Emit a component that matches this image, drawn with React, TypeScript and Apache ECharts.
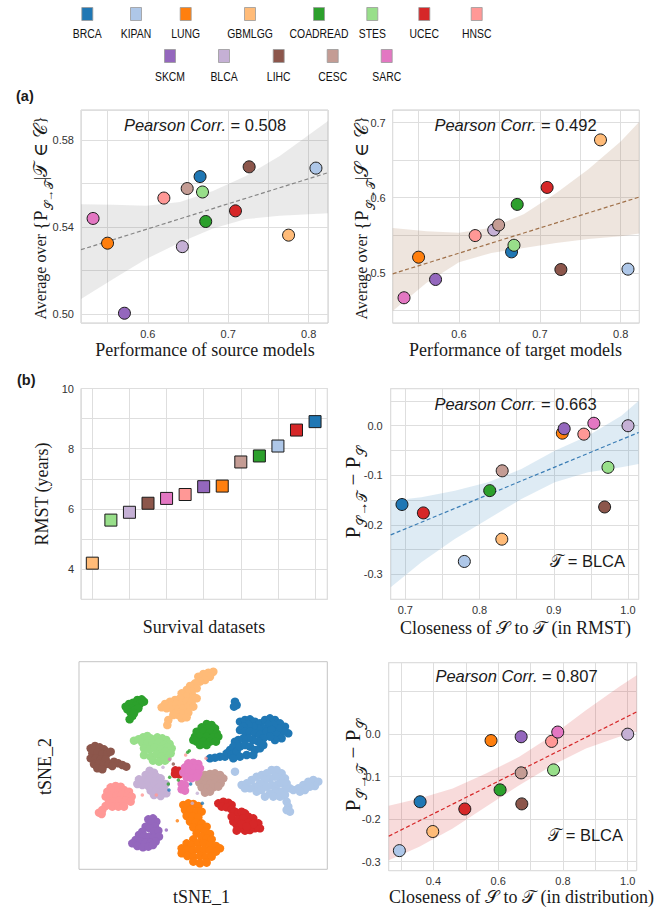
import React, { useEffect, useRef } from 'react';
import * as echarts from 'echarts';

// ---------- data ----------
const datasets = ['BRCA', 'KIPAN', 'LUNG', 'GBMLGG', 'COADREAD', 'STES', 'UCEC', 'HNSC', 'SKCM', 'BLCA', 'LIHC', 'CESC', 'SARC'];
const colors = ['#1f77b4', '#aec7e8', '#ff7f0e', '#ffbb78', '#2ca02c', '#98df8a', '#d62728', '#ff9896', '#9467bd', '#c5b0d5', '#8c564b', '#c49c94', '#e377c2'];

// panel (a)
const modelPerf = [0.665, 0.809, 0.550, 0.775, 0.672, 0.668, 0.709, 0.620, 0.571, 0.643, 0.726, 0.649, 0.532];
const avgAsSource = [0.5633, 0.5672, 0.5326, 0.5363, 0.5426, 0.5562, 0.5475, 0.5534, 0.5003, 0.5310, 0.5678, 0.5578, 0.5440];
const avgAsTarget = [0.5279, 0.5049, 0.5208, 0.6770, 0.5911, 0.5367, 0.6137, 0.5496, 0.4912, 0.5571, 0.5044, 0.5637, 0.4668];
const fitSource = [[0.517, 0.5296], [0.824, 0.5651]];
const bandSourceX = [0.517, 0.557, 0.598, 0.640, 0.681, 0.722, 0.764, 0.824];
const bandSourceLo = [0.5069, 0.5161, 0.5253, 0.5329, 0.5394, 0.5437, 0.5452, 0.5464];
const bandSourceHi = [0.5506, 0.5503, 0.5498, 0.5516, 0.5567, 0.5636, 0.5728, 0.5889];
const fitTarget = [[0.518, 0.4987], [0.823, 0.6009]];
const bandTargetX = [0.518, 0.56, 0.60, 0.64, 0.68, 0.72, 0.76, 0.80, 0.823];
const bandTargetLo = [0.4491, 0.4867, 0.5142, 0.5265, 0.5332, 0.5398, 0.5451, 0.5487, 0.5522];
const bandTargetHi = [0.5597, 0.5553, 0.5535, 0.5600, 0.5780, 0.6060, 0.6380, 0.6750, 0.7013];

// panel (b)
const rmstYears = [8.90, 8.09, 6.76, 4.20, 7.76, 5.63, 8.62, 6.48, 6.74, 5.89, 6.19, 7.56, 6.35];
const rmstCloseness = [0.6955, 0.7795, 0.9115, 0.830, 0.8137, 0.973, 0.7243, 0.9405, 0.914, 1.0, 0.9685, 0.8305, 0.954];
const distCloseness = [0.359, 0.295, 0.578, 0.398, 0.606, 0.771, 0.497, 0.765, 0.671, 1.0, 0.673, 0.671, 0.784];
const gapToBLCA = [-0.159, -0.274, -0.015, -0.229, -0.131, -0.084, -0.176, -0.017, -0.006, 0.0, -0.164, -0.091, 0.005];
const fitRmst = [[0.6803, -0.2204], [1.0144, -0.0135]];
const bandRmstX = [0.6803, 0.7216, 0.7666, 0.8115, 0.8564, 0.9013, 0.9462, 0.9911, 1.0144];
const bandRmstLo = [-0.326, -0.2756, -0.2285, -0.1882, -0.1478, -0.1142, -0.094, -0.084, -0.0773];
const bandRmstHi = [-0.1512, -0.1445, -0.131, -0.1142, -0.0874, -0.0504, -0.0202, 0.0202, 0.0504];
const fitDist = [[0.262, -0.24], [1.0278, 0.0525]];
const bandDistX = [0.262, 0.3565, 0.4595, 0.5623, 0.6651, 0.7679, 0.871, 0.9738, 1.0278];
const bandDistLo = [-0.2965, -0.2651, -0.222, -0.171, -0.12, -0.073, -0.0337, -0.0063, 0.0055];
const bandDistHi = [-0.1686, -0.1514, -0.1278, -0.0925, -0.0533, -0.0024, 0.0565, 0.1114, 0.1388];

// tick labels
const perfTicks = [0.6, 0.7, 0.8];
const sourceTicks = [0.50, 0.54, 0.58];
const targetTicks = [0.5, 0.6, 0.7];
const rmstTicks = [4, 6, 8, 10];
const gapTicks = [-0.3, -0.2, -0.1, 0.0];
const rmstCloseTicks = [0.7, 0.8, 0.9, 1.0];
const distCloseTicks = [0.4, 0.6, 0.8, 1.0];

// t-SNE embedding
const tsneBRCA = [[70.5,50.5],[71.0,49.5],[70.2,49.0],[72.0,44.5],[73.5,45.0],[75.0,45.2],[76.5,44.5],[78.0,44.0],[79.5,45.0],[81.0,45.5],[82.5,45.0],[84.0,44.0],[85.5,43.0],[86.5,41.0],[85.0,41.5],[83.5,42.5],[82.0,43.5],[80.5,43.5],[79.0,42.5],[77.5,42.5],[76.0,43.0],[74.5,43.5],[73.0,43.0],[72.0,42.0],[73.5,41.5],[75.0,41.5],[76.5,41.0],[78.0,40.5],[80.0,41.5],[81.5,42.0],[83.0,40.5],[84.5,39.5],[82.5,39.0],[81.0,40.0],[79.0,39.5],[77.5,38.5],[76.0,39.0],[74.5,39.5],[73.0,39.5],[71.5,39.0],[70.5,38.5],[70.0,37.0],[69.0,36.0],[68.0,35.0],[67.5,34.0],[69.5,34.5],[71.0,35.5],[72.0,37.0],[73.5,37.5],[75.0,37.0],[76.5,36.0],[78.0,36.5],[79.0,37.5],[76.0,34.5],[74.0,34.5],[72.0,34.0],[70.0,33.5],[66.0,34.0],[64.5,33.7],[63.0,33.5]];
const tsneKIPAN = [[70.5,29.5],[72.5,25.5],[74.0,26.0],[75.5,27.0],[77.0,28.0],[78.5,28.5],[80.0,29.0],[81.5,30.0],[83.0,30.0],[84.5,29.0],[85.5,27.5],[84.0,27.5],[82.5,28.0],[81.0,27.5],[79.5,27.0],[78.0,26.0],[76.5,25.0],[75.0,24.5],[73.5,24.5],[77.0,23.5],[78.5,24.0],[80.0,25.0],[81.5,25.5],[83.0,25.5],[84.5,26.0],[86.0,26.0],[87.0,24.5],[85.5,24.0],[84.0,23.5],[82.5,23.5],[81.0,23.0],[79.5,22.0],[82.0,22.0],[84.0,22.0],[85.5,22.5],[88.0,24.0],[89.5,24.5],[91.0,25.5],[92.5,26.5],[94.0,27.0],[95.5,26.5],[94.5,25.2],[93.0,25.0],[91.5,24.0],[90.0,23.5],[86.0,20.5],[86.5,19.0],[87.0,17.5],[86.0,18.0]];
const tsneLUNG = [[55.0,19.5],[56.5,20.0],[58.0,19.8],[59.5,19.2],[55.5,18.0],[57.2,18.0],[59.0,17.5],[60.5,17.5],[56.0,16.2],[57.8,16.0],[59.5,15.8],[57.0,14.5],[58.8,14.2],[60.5,14.0],[62.0,13.0],[58.0,12.8],[59.8,12.4],[61.5,11.5],[63.0,10.8],[59.0,11.0],[60.5,10.0],[62.0,9.5],[63.5,9.2],[58.0,9.2],[56.0,8.0],[57.5,7.5],[59.5,8.0],[61.2,8.0],[63.0,7.5],[64.8,7.2],[66.0,6.5],[54.5,6.5],[56.0,6.0],[57.8,5.8],[59.5,6.2],[61.2,6.0],[63.0,5.8],[64.8,5.5],[54.5,5.0],[56.2,4.2],[58.0,4.0],[60.0,4.2],[61.8,3.8],[63.5,4.0],[58.0,2.5],[60.0,2.0],[62.0,2.2]];
const tsneGBMLGG = [[64.0,59.5],[62.5,59.2],[61.0,58.8],[59.5,58.0],[63.0,58.0],[61.5,57.0],[60.0,56.5],[58.5,56.0],[57.0,55.2],[59.0,54.5],[57.5,53.5],[56.0,54.0],[54.5,53.0],[56.0,52.0],[58.0,52.0],[54.0,51.5],[52.5,51.0],[51.0,50.5],[49.5,49.8],[48.5,48.8],[50.0,48.5],[51.5,49.2],[53.0,49.8],[54.5,50.0],[56.0,50.5],[57.5,50.5],[59.0,51.5],[52.0,48.0],[53.5,48.2],[55.0,48.5],[56.5,49.0],[58.0,49.0],[53.5,46.5],[55.0,47.0],[56.5,47.2],[54.5,45.5],[56.0,45.8],[52.0,46.5],[50.5,45.0],[50.2,43.5]];
const tsneCOADREAD = [[37.7,49.0],[38.7,49.8],[39.9,50.2],[41.2,51.0],[42.5,51.2],[43.2,50.5],[41.9,49.8],[40.7,49.2],[39.5,48.5],[38.2,48.2],[39.2,47.2],[40.5,48.0],[41.5,48.5],[39.7,46.2],[38.9,45.2],[40.2,47.0],[62.0,43.8],[63.5,43.5],[60.5,42.8],[62.5,42.5],[64.5,42.5],[59.0,41.5],[61.0,41.5],[63.0,41.2],[65.0,41.0],[58.5,40.0],[60.0,40.0],[62.0,40.0],[64.0,39.8],[65.5,40.0],[59.0,38.5],[61.0,38.5],[63.0,38.5],[64.8,38.5],[60.0,37.5],[62.0,37.5],[58.0,39.0]];
const tsneSTES = [[40.2,38.8],[41.5,39.2],[42.9,39.8],[44.2,40.2],[45.2,39.5],[47.2,39.8],[48.7,39.5],[49.9,39.0],[50.9,37.8],[51.5,36.5],[42.7,38.2],[44.2,38.0],[45.7,38.2],[47.7,38.2],[49.2,37.5],[50.2,36.8],[43.2,36.5],[44.9,36.2],[46.5,36.8],[48.2,36.2],[49.7,35.5],[51.2,35.0],[43.2,34.5],[45.2,34.0],[46.9,34.8],[48.5,34.0],[50.2,33.5],[45.9,32.8],[47.7,32.5],[49.5,32.8]];
const tsneUCEC = [[65.5,20.0],[67.0,20.5],[68.5,20.2],[69.5,19.5],[66.5,19.0],[68.0,18.8],[69.5,18.2],[70.5,17.5],[71.5,17.0],[72.5,17.5],[73.5,17.0],[74.5,16.0],[76.0,15.5],[77.5,14.0],[78.0,12.5],[76.5,12.5],[75.0,12.0],[73.5,11.8],[72.0,12.5],[71.0,13.5],[70.0,14.5],[69.5,16.0],[71.5,15.2],[73.0,15.5],[74.5,14.2],[76.0,13.8],[72.5,13.8],[74.0,13.0],[71.0,11.8],[52.6,29.9],[53.7,29.8],[52.5,28.8],[53.8,28.7],[53.1,29.3]];
const tsneHNSC = [[33.2,24.8],[34.7,25.2],[36.2,25.0],[32.2,23.5],[33.7,23.8],[35.5,23.8],[37.2,24.0],[38.7,23.5],[31.7,22.0],[33.2,22.2],[34.9,22.2],[36.5,22.5],[38.2,22.2],[39.5,22.0],[32.7,20.5],[34.2,20.5],[35.9,20.8],[37.7,20.8],[39.2,20.5],[31.7,19.2],[33.7,19.0],[35.5,19.0],[37.2,19.0],[30.7,18.0],[29.7,17.2],[30.5,16.8]];
const tsneSKCM = [[44.5,15.2],[45.9,15.5],[46.9,14.5],[45.2,14.0],[46.5,13.0],[43.7,13.0],[44.9,12.5],[46.2,11.5],[47.5,11.8],[42.7,11.5],[41.7,10.5],[43.2,10.2],[44.7,10.0],[46.2,9.8],[47.7,10.0],[40.7,9.0],[42.2,8.5],[43.7,8.2],[45.2,8.2],[46.7,8.5],[39.7,8.0],[41.2,7.2],[42.9,6.8],[44.5,7.0],[45.9,7.5]];
const tsneBLCA = [[44.9,29.8],[46.2,29.2],[43.7,28.5],[45.2,28.2],[46.9,28.0],[48.2,27.5],[41.7,27.2],[43.2,27.0],[44.7,26.8],[46.5,26.5],[48.2,26.2],[49.7,25.8],[41.2,25.8],[42.7,25.5],[44.5,25.2],[46.2,25.0],[47.7,24.8],[49.2,24.2],[49.9,23.0],[45.2,23.8],[46.7,23.5],[48.2,23.0],[46.2,22.5],[48.2,22.2]];
const tsneLIHC = [[27.2,36.5],[28.5,37.2],[29.9,36.8],[31.2,36.2],[27.7,35.0],[29.2,35.2],[30.7,34.8],[32.2,35.0],[33.2,35.5],[27.2,33.5],[28.7,33.5],[30.2,33.2],[31.7,33.2],[28.2,31.8],[29.7,31.8],[31.2,31.5],[32.7,31.8],[34.2,32.5],[35.5,32.0],[36.7,31.5],[37.9,31.0],[29.2,30.5],[30.7,30.2],[33.7,31.2]];
const tsneCESC = [[60.0,28.0],[61.5,28.5],[63.0,28.8],[64.5,29.0],[66.0,28.5],[67.0,27.5],[65.5,27.2],[64.0,27.5],[62.5,27.2],[61.0,26.8],[59.8,26.2],[61.5,25.8],[63.2,26.0],[64.8,26.2],[66.2,26.0],[60.5,24.8],[62.2,24.5],[64.0,24.8],[65.5,25.0],[63.0,23.5],[61.5,23.2]];
const tsneSARC = [[56.5,32.0],[58.0,32.2],[59.5,31.8],[55.5,30.8],[57.0,30.8],[58.5,30.5],[60.0,30.5],[55.0,29.2],[56.5,29.2],[58.0,29.0],[59.5,29.0],[56.0,27.8],[57.5,27.5],[59.0,28.0],[54.5,25.8],[55.5,25.5],[54.5,24.2],[55.5,23.8]];
const tsneStray = [[52.0,31.8,10],[50.9,33.2,12],[50.9,27.8,4],[53.5,27.0,4],[50.5,25.8,4],[50.7,24.0,0],[60.7,20.0,0],[57.2,25.8,0],[48.9,30.8,9],[57.7,20.0,9],[59.2,23.0,9],[42.7,22.5,7],[46.9,22.5,7],[55.7,34.5,7],[61.8,33.5,7],[56.3,35.3,4],[56.8,35.8,4],[53.2,14.8,2],[49.9,12.0,8]];
const tsneClusters = [tsneBRCA, tsneKIPAN, tsneLUNG, tsneGBMLGG, tsneCOADREAD, tsneSTES, tsneUCEC, tsneHNSC, tsneSKCM, tsneBLCA, tsneLIHC, tsneCESC, tsneSARC];

// ---------- styling helpers ----------
const SANS = "'Liberation Sans', Arial, Helvetica, sans-serif";
const SERIF = "'Liberation Serif', 'Times New Roman', 'DejaVu Serif', serif";
const MATH = "'Liberation Serif', 'DejaVu Serif', 'DejaVu Sans', 'Noto Sans', serif";

const fmt = (labels: number[], dec: number) => (v: number) => {
  const hit = labels.find((l) => Math.abs(l - v) < 1e-6);
  if (hit === undefined) return '';
  return (Math.abs(hit) < 1e-9 ? 0 : hit).toFixed(dec);
};

function valAxis(gi: number, min: number, max: number, step: number, labels: number[] | null, dec: number, margin: number) {
  return {
    type: 'value', gridIndex: gi, min, max, minInterval: step, maxInterval: step,
    splitNumber: Math.round((max - min) / step),
    axisLine: { show: false }, axisTick: { show: false },
    splitLine: { show: true, lineStyle: { color: '#dedede', width: 1 } },
    axisLabel: {
      show: !!labels, formatter: labels ? fmt(labels, dec) : undefined,
      fontSize: 11, color: '#333', fontFamily: SANS, margin,
    },
  };
}

function dots(gi: number, xs: number[], ys: number[], symbol = 'circle', size = 12) {
  return {
    type: 'scatter', xAxisIndex: gi, yAxisIndex: gi, z: 5, symbol, symbolSize: size,
    data: datasets.map((name, i) => ({ name, value: [xs[i], ys[i]], itemStyle: { color: colors[i] } })),
    itemStyle: { borderColor: '#1a1a1a', borderWidth: 1, opacity: 1 },
  };
}

function fitLine(gi: number, pts: number[][], color: string) {
  return {
    type: 'line', xAxisIndex: gi, yAxisIndex: gi, z: 3, data: pts, symbol: 'none', silent: true,
    lineStyle: { color, width: 1.2, type: [4, 2.5] },
  };
}

function band(gi: number, xs: number[], lo: number[], hi: number[], fill: string) {
  return {
    type: 'custom', xAxisIndex: gi, yAxisIndex: gi, z: 1, silent: true,
    data: xs.map((x, i) => [x, lo[i], hi[i]]),
    encode: { x: 0, y: [1, 2] },
    renderItem: (params: any, api: any) => {
      if (params.dataIndex !== 0) return null;
      const top = xs.map((x, i) => api.coord([x, hi[i]]));
      const bot = xs.map((x, i) => api.coord([x, lo[i]])).reverse();
      return { type: 'polygon', shape: { points: top.concat(bot) }, style: { fill } };
    },
  };
}

function text(x: number, y: number, t: string, o: any = {}) {
  const align = o.align || 'center';
  return {
    type: 'text', x, y, rotation: o.rot || 0, scaleX: o.scaleX || 1, z: 100, silent: true,
    style: {
      text: t, fontSize: o.size || 16, fontFamily: o.family || SANS,
      fontStyle: o.italic ? 'italic' : 'normal', fontWeight: o.bold ? 'bold' : 'normal',
      fill: o.fill || '#1a1a1a', align, verticalAlign: 'middle', textAlign: align, textVerticalAlign: 'middle',
      rich: o.rich,
    },
  };
}

const pearsonRich = { i: { fontSize: 16.5, fontFamily: SANS, fontStyle: 'italic', fill: '#1a1a1a' } };
const pearson = (x: number, y: number, v: string) => text(x, y, '{i|Pearson Corr.} = ' + v, { size: 16.5, rich: pearsonRich });
const targetTag = (x: number, y: number) => text(x, y, '{m|𝒯} = BLCA', { size: 16.5, align: 'right', rich: { m: { fontSize: 17, fontFamily: MATH, fill: '#1a1a1a' } } });

const subRich = (base: number, sub: number) => ({
  s: { fontSize: sub, fontFamily: MATH, fill: '#1a1a1a', verticalAlign: 'bottom', lineHeight: sub },
  m: { fontSize: base, fontFamily: MATH, fill: '#1a1a1a', lineHeight: base * 1.6 },
});

const legendRow1X = [87.3, 136, 185.7, 250, 319, 372.3, 424.3, 476.7];
const legendRow2X = [170, 224, 278.7, 332.7, 386.7];

export default function App() {
  const ref = useRef<HTMLDivElement>(null);
  useEffect(() => {
    if (!ref.current) return;
    const chart = echarts.init(ref.current, undefined, { renderer: 'svg' });

    const order = datasets.map((_, i) => i).sort((a, b) => rmstYears[a] - rmstYears[b]);
    const rmstRank = datasets.map((_, i) => order.indexOf(i));

    const graphic: any[] = [];
    datasets.forEach((name, i) => {
      const row = i < 8 ? 0 : 1;
      const cx = row === 0 ? legendRow1X[i] : legendRow2X[i - 8];
      graphic.push({ type: 'rect', z: 100, shape: { x: cx - 5.5, y: row === 0 ? 7.5 : 49.5, width: 11, height: 13 }, style: { fill: colors[i], stroke: '#999', lineWidth: 0.8 } });
      graphic.push(text(cx, row === 0 ? 33.5 : 76, name, { size: 13, scaleX: 0.8, fill: '#111' }));
    });
    graphic.push(text(16, 96, '(a)', { size: 14.5, bold: true, align: 'left' }));
    graphic.push(text(17, 380, '(b)', { size: 14.5, bold: true, align: 'left' }));
    graphic.push(pearson(205, 125, '0.508'));
    graphic.push(pearson(515.5, 125, '0.492'));
    graphic.push(pearson(515.5, 404, '0.663'));
    graphic.push(pearson(516.5, 676, '0.807'));
    graphic.push(targetTag(625, 561));
    graphic.push(targetTag(623, 835));
    // axis titles
    const R = Math.PI / 2;
    graphic.push(text(205, 349.5, 'Performance of source models', { size: 18, family: SERIF }));
    graphic.push(text(515.5, 349.5, 'Performance of target models', { size: 18, family: SERIF }));
    graphic.push(text(40, 218, 'Average over {m|{P}{s|𝒮→𝒯}{m||𝒯 ∈ 𝒞}}', { size: 16, family: SERIF, rot: R, rich: subRich(19, 12) }));
    graphic.push(text(361.5, 218, 'Average over {m|{P}{s|𝒮→𝒯}{m||𝒮 ∈ 𝒞}}', { size: 16, family: SERIF, rot: R, rich: subRich(19, 12) }));
    graphic.push(text(41.5, 494, 'RMST (years)', { size: 18, family: SERIF, rot: R }));
    graphic.push(text(204, 626.5, 'Survival datasets', { size: 18, family: SERIF }));
    graphic.push(text(353, 492, '{m|P}{s|𝒮→𝒯}{m| − P}{s|𝒮}', { size: 20, family: SERIF, rot: R, rich: subRich(21, 14) }));
    graphic.push(text(515.5, 628, 'Closeness of {m|𝒮} to {m|𝒯} (in RMST)', { size: 18, family: SERIF, rich: { m: { fontSize: 18, fontFamily: MATH, fill: '#1a1a1a' } } }));
    graphic.push(text(45, 766.5, 'tSNE_2', { size: 18, family: SERIF, rot: R }));
    graphic.push(text(201.5, 896.5, 'tSNE_1', { size: 18, family: SERIF }));
    graphic.push(text(353, 765, '{m|P}{s|𝒮→𝒯}{m| − P}{s|𝒮}', { size: 20, family: SERIF, rot: R, rich: subRich(21, 14) }));
    graphic.push(text(521.5, 897, 'Closeness of {m|𝒮} to {m|𝒯} (in distribution)', { size: 18, family: SERIF, rich: { m: { fontSize: 18, fontFamily: MATH, fill: '#1a1a1a' } } }));

    const gridBase = { show: true, borderColor: '#cccccc', borderWidth: 1, backgroundColor: 'transparent', containLabel: false };

    const option: any = {
      animation: false,
      backgroundColor: '#ffffff',
      grid: [
        { ...gridBase, left: 81, top: 110, width: 247, height: 213 },
        { ...gridBase, left: 392.7, top: 110, width: 246.6, height: 213 },
        { ...gridBase, left: 81, top: 388.5, width: 246.3, height: 210.8 },
        { ...gridBase, left: 390.7, top: 388.7, width: 248, height: 210.6 },
        { ...gridBase, left: 79, top: 661.7, width: 248.3, height: 207.6, borderColor: '#c4c4c4' },
        { ...gridBase, left: 388.7, top: 662.7, width: 248, height: 208 },
      ],
      xAxis: [
        valAxis(0, 0.517, 0.824, 0.05, perfTicks, 1, 5),
        valAxis(1, 0.518, 0.823, 0.05, perfTicks, 1, 5),
        valAxis(2, -0.61, 12.66, 2, null, 0, 6),
        valAxis(3, 0.6803, 1.0144, 0.05, rmstCloseTicks, 1, 5),
        { type: 'value', gridIndex: 4, min: 23.7, max: 98.2, show: false },
        valAxis(5, 0.262, 1.0278, 0.1, distCloseTicks, 1, 5),
      ],
      yAxis: [
        valAxis(0, 0.4958, 0.5940, 0.02, sourceTicks, 2, 7),
        valAxis(1, 0.4332, 0.7168, 0.05, targetTicks, 1, 7),
        valAxis(2, 3, 10, 1, rmstTicks, 0, 7),
        valAxis(3, -0.3504, 0.0748, 0.05, gapTicks, 1, 8),
        { type: 'value', gridIndex: 4, min: 0.2, max: 62.5, show: false },
        valAxis(5, -0.3212, 0.1682, 0.1, gapTicks, 1, 8),
      ],
      series: [
        band(0, bandSourceX, bandSourceLo, bandSourceHi, 'rgba(127,127,127,0.16)'),
        fitLine(0, fitSource, '#858585'),
        dots(0, modelPerf, avgAsSource),
        band(1, bandTargetX, bandTargetLo, bandTargetHi, 'rgba(160,113,74,0.18)'),
        fitLine(1, fitTarget, '#a0714a'),
        dots(1, modelPerf, avgAsTarget),
        dots(2, rmstRank, rmstYears, 'rect', 12),
        band(3, bandRmstX, bandRmstLo, bandRmstHi, 'rgba(31,119,180,0.15)'),
        fitLine(3, fitRmst, '#3a7db5'),
        dots(3, rmstCloseness, gapToBLCA),
        ...tsneClusters.map((pts, i) => ({
          type: 'scatter', xAxisIndex: 4, yAxisIndex: 4, z: 4, symbolSize: 8.5, silent: true,
          name: datasets[i], data: pts, itemStyle: { color: colors[i], opacity: 1 },
        })),
        {
          type: 'scatter', xAxisIndex: 4, yAxisIndex: 4, z: 4, symbolSize: 3.5, silent: true,
          data: tsneStray.map((p) => ({ value: [p[0], p[1]], itemStyle: { color: colors[p[2]] } })),
        },
        band(5, bandDistX, bandDistLo, bandDistHi, 'rgba(214,39,40,0.17)'),
        fitLine(5, fitDist, '#d62728'),
        dots(5, distCloseness, gapToBLCA),
      ],
      graphic,
    };
    chart.setOption(option);
    return () => chart.dispose();
  }, []);
  return <div ref={ref} style={{ position: 'absolute', left: 0, top: 0, width: 668, height: 907 }} />;
}
